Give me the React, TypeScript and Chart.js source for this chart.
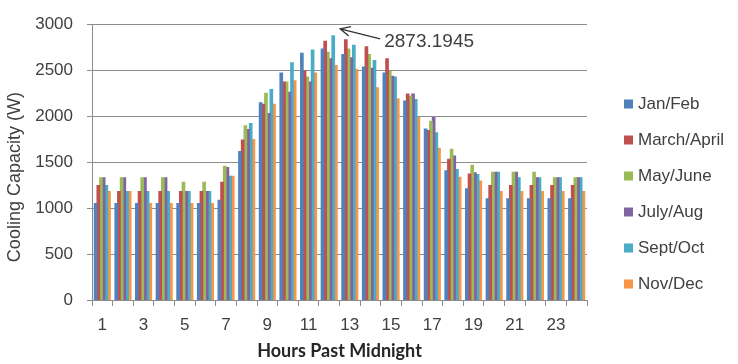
import React, { useEffect, useRef } from 'react';
import { Chart, registerables } from 'chart.js';

Chart.register(...registerables);

const hours = ['1', '2', '3', '4', '5', '6', '7', '8', '9', '10', '11', '12', '13', '14', '15', '16', '17', '18', '19', '20', '21', '22', '23', '24'];

const janFeb = [1050, 1050, 1050, 1050, 1050, 1050, 1085, 1615, 2145, 2470, 2685, 2730, 2670, 2535, 2470, 2165, 1860, 1405, 1210, 1100, 1100, 1100, 1100, 1100];
const marchApril = [1245, 1180, 1180, 1180, 1180, 1180, 1280, 1740, 2130, 2370, 2495, 2815, 2830, 2755, 2625, 2240, 1845, 1530, 1370, 1245, 1245, 1245, 1245, 1245];
const mayJune = [1330, 1330, 1330, 1330, 1280, 1280, 1455, 1895, 2250, 2370, 2425, 2695, 2730, 2670, 2485, 2215, 1945, 1640, 1465, 1390, 1390, 1390, 1330, 1330];
const julyAug = [1330, 1330, 1330, 1330, 1180, 1180, 1440, 1855, 2030, 2260, 2370, 2625, 2635, 2520, 2435, 2240, 1985, 1565, 1385, 1390, 1390, 1330, 1330, 1330];
const septOct = [1245, 1180, 1180, 1180, 1180, 1180, 1345, 1920, 2290, 2580, 2720, 2873.1945, 2770, 2605, 2425, 2180, 1820, 1420, 1365, 1390, 1330, 1330, 1330, 1330];
const novDec = [1180, 1180, 1050, 1050, 1050, 1050, 1345, 1745, 2130, 2385, 2470, 2550, 2510, 2310, 2190, 1985, 1650, 1335, 1295, 1180, 1180, 1180, 1180, 1180];

const seriesLabels = ['Jan/Feb', 'March/April', 'May/June', 'July/Aug', 'Sept/Oct', 'Nov/Dec'];
const seriesValues = [janFeb, marchApril, mayJune, julyAug, septOct, novDec];
const seriesColors = ['#4F81BD', '#C0504D', '#9BBB59', '#8064A2', '#4BACC6', '#F79646'];

const yTicks = [0, 500, 1000, 1500, 2000, 2500, 3000];

const FONT = "'Liberation Sans', Arial, sans-serif";
const TEXT = '#404040';
const GRID = '#8c8c8c';

const sideLegend = {
  id: 'sideLegend',
  afterDraw(chart: any) {
    const ctx = chart.ctx;
    ctx.save();
    ctx.font = `17px ${FONT}`;
    ctx.textBaseline = 'middle';
    ctx.textAlign = 'left';
    chart.data.datasets.forEach((ds: any, i: number) => {
      const y = 104 + i * 36;
      ctx.fillStyle = ds.backgroundColor;
      ctx.fillRect(624, y - 4.5, 9, 9);
      ctx.fillStyle = TEXT;
      ctx.fillText(ds.label, 638, y);
    });
    ctx.restore();
  },
};

const maxCallout = {
  id: 'maxCallout',
  afterDatasetsDraw(chart: any) {
    let best = { d: 0, i: 0, v: -Infinity };
    chart.data.datasets.forEach((ds: any, d: number) => {
      ds.data.forEach((v: number, i: number) => {
        if (v > best.v) best = { d, i, v };
      });
    });
    const el = chart.getDatasetMeta(best.d).data[best.i];
    if (!el) return;
    const ctx = chart.ctx;
    const tipX = el.x + 7;
    const tipY = el.y - 7;
    const endX = tipX + 40;
    const endY = tipY + 10;
    const ang = Math.atan2(endY - tipY, endX - tipX);
    ctx.save();
    ctx.strokeStyle = '#333333';
    ctx.lineWidth = 1.3;
    ctx.beginPath();
    ctx.moveTo(endX, endY);
    ctx.lineTo(tipX, tipY);
    ctx.moveTo(tipX + 11 * Math.cos(ang - 0.45), tipY + 11 * Math.sin(ang - 0.45));
    ctx.lineTo(tipX, tipY);
    ctx.lineTo(tipX + 11 * Math.cos(ang + 0.45), tipY + 11 * Math.sin(ang + 0.45));
    ctx.stroke();
    ctx.fillStyle = TEXT;
    ctx.font = `19px ${FONT}`;
    ctx.textBaseline = 'middle';
    ctx.textAlign = 'left';
    ctx.fillText(String(best.v), tipX + 44, tipY + 12.5);
    ctx.restore();
  },
};

export default function App() {
  const ref = useRef<HTMLCanvasElement>(null);

  useEffect(() => {
    if (!ref.current) return;
    const chart = new Chart(ref.current, {
      type: 'bar',
      data: {
        labels: hours,
        datasets: seriesLabels.map((label, k) => ({
          label,
          data: seriesValues[k],
          backgroundColor: seriesColors[k],
          borderWidth: 0,
          inflateAmount: 0.5,
          categoryPercentage: 0.78,
          barPercentage: 1.0,
        })),
      },
      options: {
        animation: false,
        responsive: false,
        maintainAspectRatio: false,
        layout: { padding: { top: 17, right: 151, bottom: 0, left: 0 } },
        plugins: {
          legend: { display: false },
          tooltip: { enabled: false },
        },
        scales: {
          x: {
            grid: { offset: true, drawOnChartArea: false, drawTicks: true, tickLength: 6, color: GRID },
            border: { display: true, color: GRID },
            ticks: {
              autoSkip: false,
              maxRotation: 0,
              minRotation: 0,
              padding: 8.8,
              color: TEXT,
              font: { family: FONT, size: 17 },
              callback: (_v: any, i: number) => (i % 2 === 0 ? hours[i] : ''),
            },
            title: {
              display: true,
              text: 'Hours Past Midnight',
              color: '#262626',
              font: { family: 'Lato, "Open Sans", sans-serif', size: 18, weight: 'bold' },
              padding: { top: -3.8, bottom: 2.2 },
            },
          },
          y: {
            min: 0,
            max: 3000,
            afterBuildTicks: (axis: any) => {
              axis.ticks = yTicks.map((v) => ({ value: v }));
            },
            grid: { color: GRID, tickLength: 5, drawTicks: true },
            border: { display: true, color: GRID },
            ticks: {
              padding: 14,
              color: TEXT,
              font: { family: FONT, size: 17 },
              callback: (v: any) => String(v),
            },
            title: {
              display: true,
              text: 'Cooling Capacity (W)      ',
              color: TEXT,
              font: { family: FONT, size: 18 },
              padding: { top: 4.7, bottom: -5.1 },
            },
          },
        },
      } as any,
      plugins: [sideLegend, maxCallout],
    });
    return () => chart.destroy();
  }, []);

  return (
    <div style={{ position: 'fixed', left: 0, top: 0, width: 738, height: 364, background: '#ffffff' }}>
      <canvas ref={ref} width={738} height={364} style={{ display: 'block' }} />
    </div>
  );
}
